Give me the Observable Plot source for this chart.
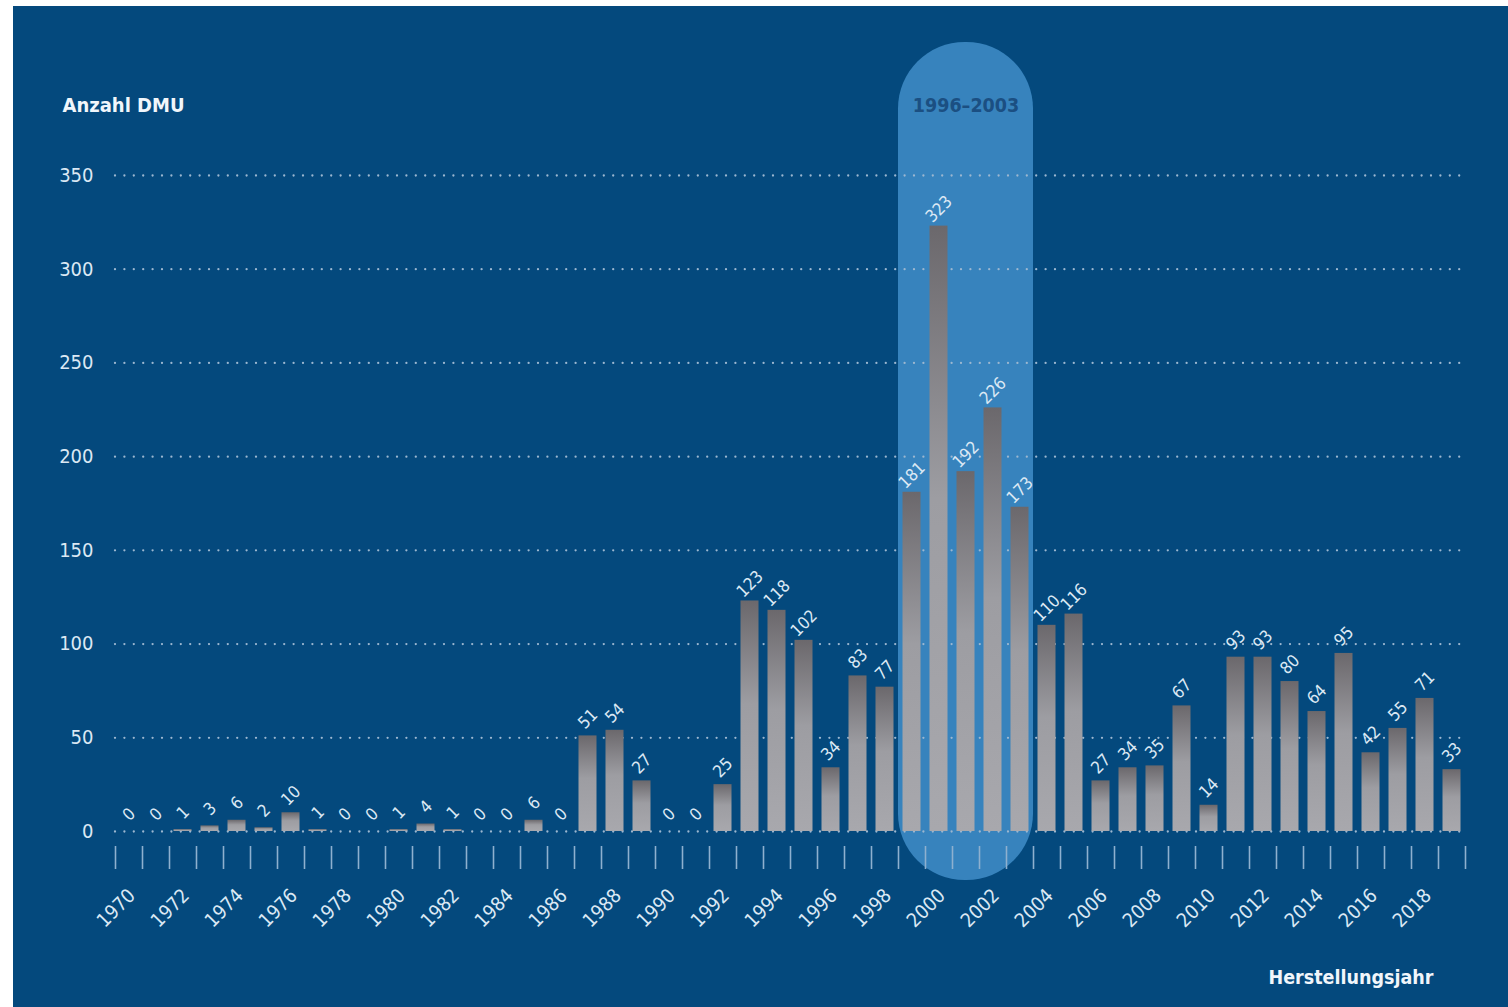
<!DOCTYPE html>
<html>
<head>
<meta charset="utf-8">
<script src="https://cdn.jsdelivr.net/npm/d3@7"></script>
<script src="https://cdn.jsdelivr.net/npm/@observablehq/plot@0.6"></script>
<style>
  html, body { margin: 0; padding: 0; background: #ffffff; }
  #chart { position: absolute; left: 13px; top: 6px; width: 1495px; height: 1001px; background: #04497d; overflow: hidden; }
  #chart svg { display: block; }
</style>
</head>
<body>
<div id="chart"></div>
<script>
// Herstellungsjahr (year of manufacture) and number of DMUs per year
const years = [
  1970, 1971, 1972, 1973, 1974, 1975, 1976, 1977, 1978, 1979,
  1980, 1981, 1982, 1983, 1984, 1985, 1986, 1987, 1988, 1989,
  1990, 1991, 1992, 1993, 1994, 1995, 1996, 1997, 1998, 1999,
  2000, 2001, 2002, 2003, 2004, 2005, 2006, 2007, 2008, 2009,
  2010, 2011, 2012, 2013, 2014, 2015, 2016, 2017, 2018, 2019
];
const counts = [
  0, 0, 1, 3, 6, 2, 10, 1, 0, 0,
  1, 4, 1, 0, 0, 6, 0, 51, 54, 27,
  0, 0, 25, 123, 118, 102, 34, 83, 77, 181,
  323, 192, 226, 173, 110, 116, 27, 34, 35, 67,
  14, 93, 93, 80, 64, 95, 42, 55, 71, 33
];
const yearLabels = [
  1970, 1972, 1974, 1976, 1978, 1980, 1982, 1984, 1986, 1988,
  1990, 1992, 1994, 1996, 1998, 2000, 2002, 2004, 2006, 2008,
  2010, 2012, 2014, 2016, 2018
];
const yTicks = [0, 50, 100, 150, 200, 250, 300, 350];
const highlightYears = [1999, 2003];
const highlightLabel = "1996–2003";
const yTitle = "Anzahl DMU";
const xTitle = "Herstellungsjahr";

const data = years.map((year, i) => ({year, count: counts[i]}));
// tick marks sit on the boundaries between the yearly bars
const tickEdges = [...years.map(y => y - 0.5), years[years.length - 1] + 0.5];

const font = "'Liberation Sans Narrow', 'DejaVu Sans Condensed', 'Roboto', sans-serif";
const textColor = "#dbe8f4";

// vertical shading for the bars: darker at the top, lighter towards the base
const shading = () => {
  const defs = d3.create("svg:defs");
  const g = defs.append("linearGradient")
    .attr("id", "barShade")
    .attr("x1", 0).attr("y1", 0).attr("x2", 0).attr("y2", 1);
  g.append("stop").attr("offset", "0%").attr("stop-color", "#6b686c");
  g.append("stop").attr("offset", "45%").attr("stop-color", "#9d9da2");
  g.append("stop").attr("offset", "100%").attr("stop-color", "#a8a8ad");
  return defs.node();
};

const chart = Plot.plot({
  width: 1495,
  height: 1001,
  marginLeft: 102,
  marginRight: 43,
  marginTop: 169,
  marginBottom: 176,
  style: {background: "transparent", color: textColor, fontFamily: font, fontSize: "20px"},
  x: {domain: [years[0] - 0.5, years[years.length - 1] + 0.5], label: null},
  y: {domain: [0, 350], label: null},
  marks: [
    shading,
    // highlighted period: a pill-shaped band behind the bars
    Plot.rect([highlightYears], {
      x1: d => d[0] - 0.5,
      x2: d => d[1] + 0.5,
      insetTop: -133,
      insetBottom: -49,
      rx: 66.5,
      fill: "#3783bd"
    }),
    Plot.text([highlightLabel], {
      x: () => (highlightYears[0] + highlightYears[1] + 1) / 2 - 0.5,
      frameAnchor: "top",
      lineAnchor: "middle",
      dy: -70,
      text: d => d,
      fill: "#1b4f82",
      fontWeight: "bold",
      fontSize: 19.5
    }),
    Plot.gridY({
      ticks: yTicks,
      stroke: "#9cb7d0",
      strokeOpacity: 1,
      strokeWidth: 2.3,
      strokeDasharray: "0 9.4",
      strokeLinecap: "round"
    }),
    Plot.axisY({
      ticks: yTicks,
      tickSize: 0,
      tickPadding: 22,
      fontSize: 20,
      fill: textColor
    }),
    Plot.axisX({
      ticks: tickEdges,
      tickSize: 23,
      tickFormat: () => "",
      dy: 15,
      stroke: "#8eb0cf",
      strokeWidth: 1.6
    }),
    Plot.rectY(data, {
      x1: d => d.year - 0.5,
      x2: d => d.year + 0.5,
      y: "count",
      insetLeft: 4.5,
      insetRight: 4.5,
      fill: "url(#barShade)"
    }),
    Plot.text(data, {
      x: "year",
      y: "count",
      text: d => String(d.count),
      rotate: -45,
      dy: -17,
      fill: textColor,
      fontSize: 17
    }),
    Plot.text(yearLabels, {
      x: d => d,
      frameAnchor: "bottom",
      lineAnchor: "middle",
      text: d => String(d),
      rotate: -45,
      textAnchor: "end",
      dx: 3,
      dy: 61,
      fill: textColor,
      fontSize: 19.5
    }),
    Plot.text([yTitle], {
      frameAnchor: "top-left",
      lineAnchor: "middle",
      text: d => d,
      textAnchor: "start",
      dx: -53,
      dy: -70,
      fill: "#f1f6fb",
      fontWeight: "bold",
      fontSize: 20
    }),
    Plot.text([xTitle], {
      frameAnchor: "bottom-right",
      lineAnchor: "middle",
      text: d => d,
      textAnchor: "end",
      dx: -32,
      dy: 146,
      fill: "#f1f6fb",
      fontWeight: "bold",
      fontSize: 19.5
    })
  ]
});

document.getElementById("chart").appendChild(chart);
</script>
</body>
</html>
